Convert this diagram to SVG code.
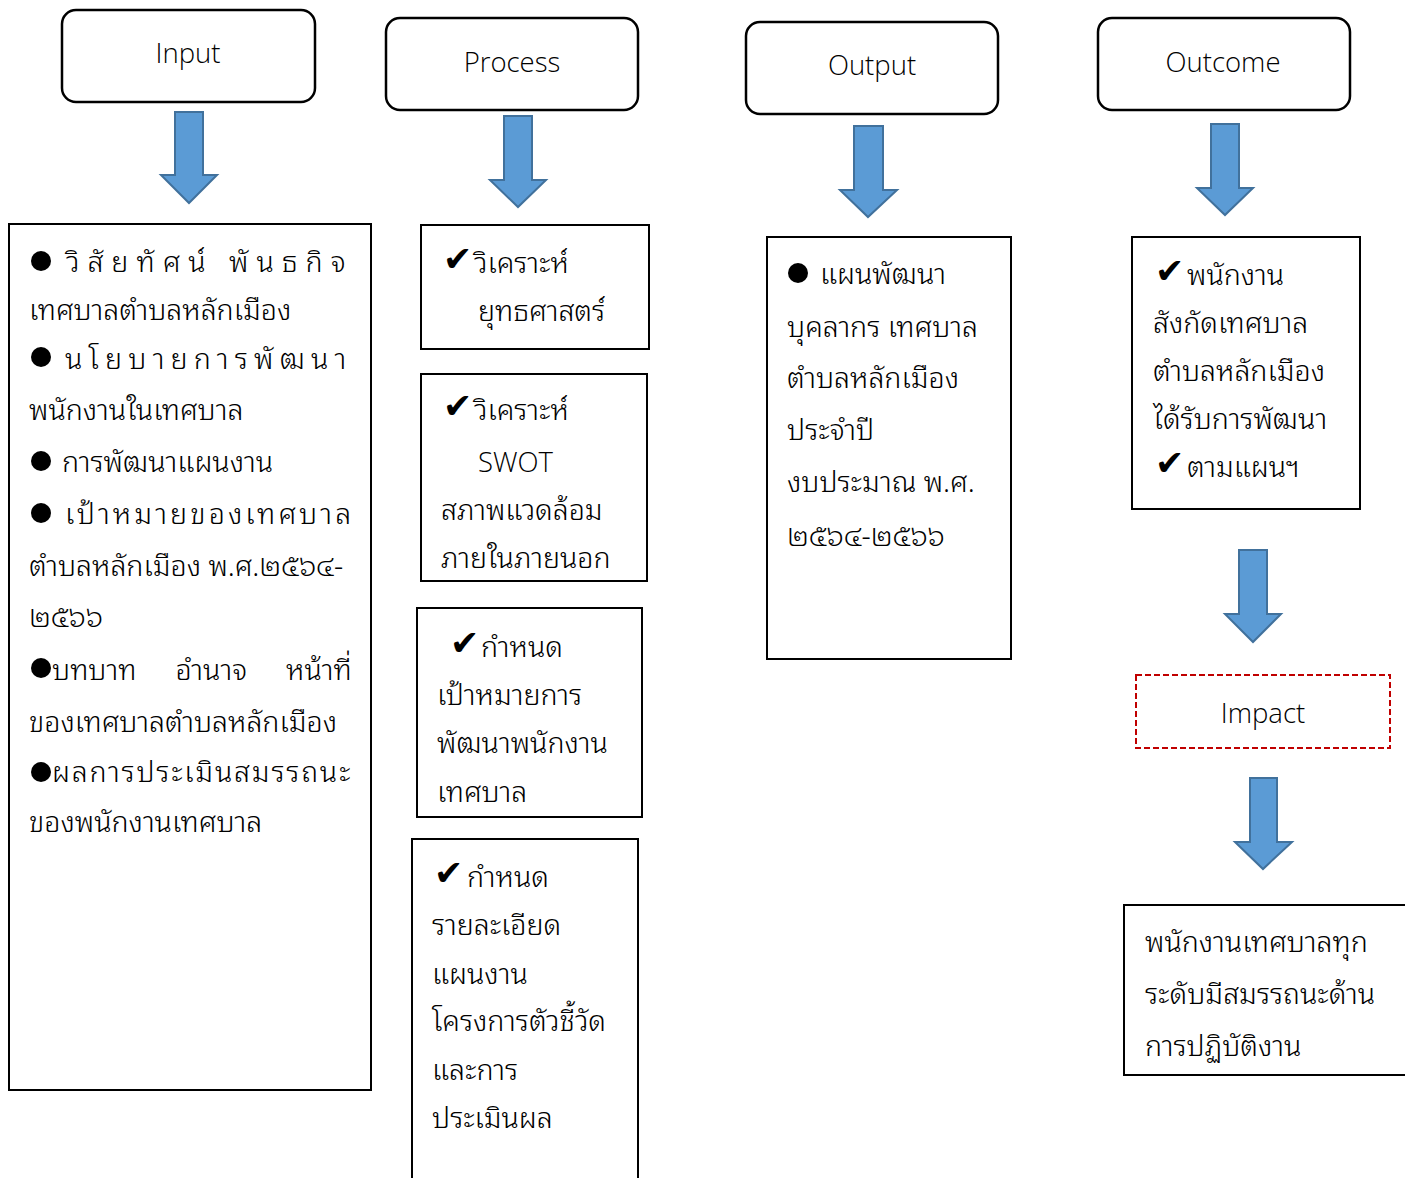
<svg xmlns="http://www.w3.org/2000/svg" width="1405" height="1178" viewBox="0 0 1405 1178">
<style>
.hdr{fill:#fff;stroke:#000;stroke-width:2.5}
.box{fill:#fff;stroke:#000;stroke-width:2}
.imp{fill:#fff;stroke:#C00000;stroke-width:2;stroke-dasharray:6 3}
.arr{fill:#5B9BD5;stroke:#41719C;stroke-width:2}
.lat{font-family:"Open Sans","Liberation Sans",sans-serif;font-weight:300;font-size:27.5px;fill:#000}
.mid{text-anchor:middle}
.th{font-family:"Noto Sans Thai Looped","Noto Serif Thai","Loma","Garuda","Norasi","Sarabun","Noto Sans Thai","Noto Sans",sans-serif;font-size:28.6px;font-weight:300;fill:#000}
.chk{font-family:"DejaVu Sans",sans-serif;font-size:35px;fill:#000}
</style>
<rect width="1405" height="1178" fill="#fff"/>
<g id="connectors">
<path class="arr" d="M175,112 H203 V175 H217 L189,203 L161,175 H175 Z"/>
<path class="arr" d="M504,116 H532 V180 H546 L518,207 L490,180 H504 Z"/>
<path class="arr" d="M854,126 H883 V190 H897 L868,217 L840,190 H854 Z"/>
<path class="arr" d="M1211,124 H1239 V188 H1253 L1225,215 L1197,188 H1211 Z"/>
<path class="arr" d="M1239,550 H1267 V614 H1281 L1253,642 L1225,614 H1239 Z"/>
<path class="arr" d="M1250,778 H1277 V842 H1292 L1263,869 L1235,842 H1250 Z"/>
</g>
<g id="input">
<rect class="hdr" x="62" y="10" width="253" height="92" rx="14"/>
<text class="lat mid" x="188" y="63">Input</text>
</g>
<g id="process">
<rect class="hdr" x="386" y="18" width="252" height="92" rx="14"/>
<text class="lat mid" x="512" y="72">Process</text>
</g>
<g id="output">
<rect class="hdr" x="746" y="22" width="252" height="92" rx="14"/>
<text class="lat mid" x="872" y="75">Output</text>
</g>
<g id="outcome">
<rect class="hdr" x="1098" y="18" width="252" height="92" rx="14"/>
<text class="lat mid" x="1223" y="72">Outcome</text>
</g>
<g id="input-detail">
<rect class="box" x="9" y="224" width="362" height="866"/>
<circle cx="41" cy="261" r="10"/>
<text class="th" x="66" y="272" letter-spacing="8">วิสัยทัศน์ พันธกิจ</text>
<text class="th" x="29" y="320">เทศบาลตำบลหลักเมือง</text>
<circle cx="41" cy="357" r="10"/>
<text class="th" x="65" y="369" letter-spacing="6.2">นโยบายการพัฒนา</text>
<text class="th" x="29" y="420">พนักงานในเทศบาล</text>
<circle cx="41" cy="461" r="10"/>
<text class="th" x="62" y="472">การพัฒนาแผนงาน</text>
<circle cx="41" cy="513" r="10"/>
<text class="th" x="65" y="524" letter-spacing="3.1">เป้าหมายของเทศบาล</text>
<text class="th" x="29" y="576">ตำบลหลักเมือง พ.ศ.๒๕๖๔-</text>
<text class="th" x="29" y="627">๒๕๖๖</text>
<circle cx="41" cy="668" r="10"/>
<text class="th" x="52" y="680" word-spacing="31.5">บทบาท อำนาจ หน้าที่</text>
<text class="th" x="29" y="732">ของเทศบาลตำบลหลักเมือง</text>
<circle cx="41" cy="772" r="10"/>
<text class="th" x="52" y="782" letter-spacing="1.8">ผลการประเมินสมรรถนะ</text>
<text class="th" x="29" y="832">ของพนักงานเทศบาล</text>
</g>
<g id="process-1">
<rect class="box" x="421" y="225" width="228" height="124"/>
<text class="chk" x="443" y="271">✔</text>
<text class="th" x="474" y="273">วิเคราะห์</text>
<text class="th" x="478" y="321">ยุทธศาสตร์</text>
</g>
<g id="process-2">
<rect class="box" x="421" y="374" width="226" height="207"/>
<text class="chk" x="443" y="418">✔</text>
<text class="th" x="474" y="420">วิเคราะห์</text>
<text class="lat" x="478" y="472">SWOT</text>
<text class="th" x="441" y="520">สภาพแวดล้อม</text>
<text class="th" x="441" y="568">ภายในภายนอก</text>
</g>
<g id="process-3">
<rect class="box" x="417" y="608" width="225" height="209"/>
<text class="chk" x="450" y="655">✔</text>
<text class="th" x="481" y="657">กำหนด</text>
<text class="th" x="437" y="705">เป้าหมายการ</text>
<text class="th" x="437" y="753">พัฒนาพนักงาน</text>
<text class="th" x="437" y="802">เทศบาล</text>
</g>
<g id="process-4">
<rect class="box" x="412" y="839" width="226" height="345"/>
<text class="chk" x="434" y="885">✔</text>
<text class="th" x="467" y="887">กำหนด</text>
<text class="th" x="432" y="935">รายละเอียด</text>
<text class="th" x="432" y="984">แผนงาน</text>
<text class="th" x="432" y="1031">โครงการตัวชี้วัด</text>
<text class="th" x="432" y="1080">และการ</text>
<text class="th" x="432" y="1128">ประเมินผล</text>
</g>
<g id="output-detail">
<rect class="box" x="767" y="237" width="244" height="422"/>
<circle cx="798" cy="273" r="10"/>
<text class="th" x="820" y="284">แผนพัฒนา</text>
<text class="th" x="787" y="337">บุคลากร เทศบาล</text>
<text class="th" x="787" y="388">ตำบลหลักเมือง</text>
<text class="th" x="787" y="440">ประจำปี</text>
<text class="th" x="787" y="492">งบประมาณ พ.ศ.</text>
<text class="th" x="787" y="546">๒๕๖๔-๒๕๖๖</text>
</g>
<g id="outcome-detail">
<rect class="box" x="1132" y="237" width="228" height="272"/>
<text class="chk" x="1155" y="283">✔</text>
<text class="th" x="1187" y="285">พนักงาน</text>
<text class="th" x="1153" y="333">สังกัดเทศบาล</text>
<text class="th" x="1153" y="381">ตำบลหลักเมือง</text>
<text class="th" x="1153" y="429">ได้รับการพัฒนา</text>
<text class="chk" x="1155" y="475">✔</text>
<text class="th" x="1187" y="477">ตามแผนฯ</text>
</g>
<g id="impact">
<rect class="imp" x="1136" y="675" width="254" height="73"/>
<text class="lat mid" x="1263" y="723">Impact</text>
</g>
<g id="impact-detail">
<rect class="box" x="1124" y="905" width="290" height="170"/>
<text class="th" x="1145" y="952">พนักงานเทศบาลทุก</text>
<text class="th" x="1145" y="1004">ระดับมีสมรรถนะด้าน</text>
<text class="th" x="1145" y="1056">การปฏิบัติงาน</text>
</g>
</svg>
